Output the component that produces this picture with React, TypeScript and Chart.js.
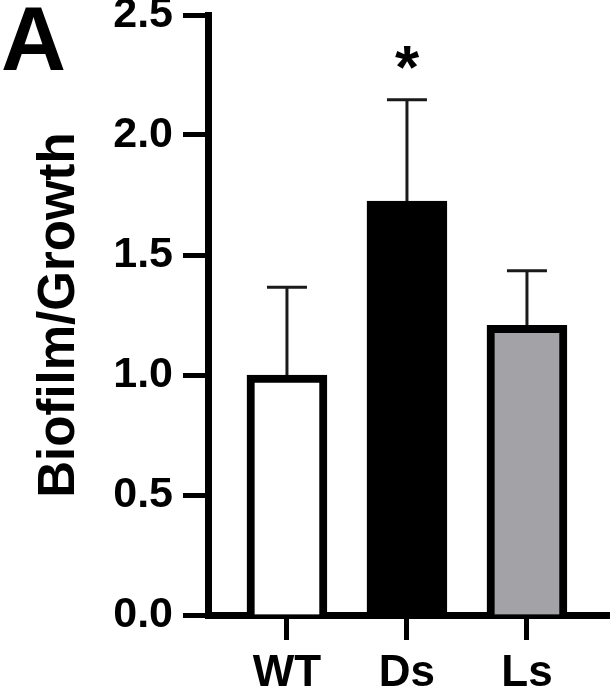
import React, { useEffect, useRef } from "react";
import { Chart, registerables } from "chart.js";

Chart.register(...registerables);

// Strains on the x axis
const categories = ["WT", "Ds", "Ls"];
// Mean biofilm/growth ratio per strain
const means = [1.0, 1.725, 1.207];
// Upper end of the error bar (mean + SD)
const upperErrors = [1.366, 2.147, 1.434];
// Significance marks above each bar
const significance = ["", "*", ""];
// Y axis tick values
const yTicks = [0, 0.5, 1.0, 1.5, 2.0, 2.5];

const fills = ["#ffffff", "#000000", "#a3a2a7"];
const FONT = "'Liberation Sans', Arial, Helvetica, sans-serif";

const errorBarPlugin = {
  id: "errorBars",
  beforeDatasetsDraw(chart: any) {
    const { ctx } = chart;
    const xs = chart.scales.x;
    const ys = chart.scales.y;
    ctx.save();
    ctx.strokeStyle = "#1a1a1a";
    ctx.lineWidth = 3;
    ctx.lineCap = "butt";
    means.forEach((m, i) => {
      const x = xs.getPixelForValue(i);
      const yBase = ys.getPixelForValue(m);
      const yTop = ys.getPixelForValue(upperErrors[i]);
      ctx.beginPath();
      ctx.moveTo(x, yBase);
      ctx.lineTo(x, yTop);
      ctx.moveTo(x - 20, yTop);
      ctx.lineTo(x + 20, yTop);
      ctx.stroke();
    });
    ctx.restore();
  },
  afterDraw(chart: any) {
    const { ctx } = chart;
    const xs = chart.scales.x;
    const ys = chart.scales.y;
    ctx.save();
    ctx.fillStyle = "#000";
    ctx.textAlign = "center";
    ctx.textBaseline = "alphabetic";
    ctx.font = `bold 62px ${FONT}`;
    significance.forEach((s, i) => {
      if (!s) return;
      const x = xs.getPixelForValue(i);
      const yTop = ys.getPixelForValue(upperErrors[i]);
      const m = ctx.measureText(s);
      const h = m.actualBoundingBoxAscent + m.actualBoundingBoxDescent;
      // centre the glyph 42px above the cap
      const cy = yTop - 42;
      ctx.fillText(s, x, cy + h / 2 - m.actualBoundingBoxDescent);
    });
    // Panel letter
    ctx.textAlign = "left";
    ctx.font = `bold 90px ${FONT}`;
    ctx.fillText("A", 1, 70);
    ctx.restore();
  },
};

export default function App() {
  const ref = useRef<HTMLCanvasElement | null>(null);

  useEffect(() => {
    if (!ref.current) return;
    const chart = new Chart(ref.current, {
      type: "bar",
      data: {
        datasets: [
          {
            data: means.map((v, i) => ({ x: i, y: v })),
            backgroundColor: fills,
            borderColor: "#000000",
            borderWidth: 8,
            borderSkipped: "start",
            barThickness: 80,
          },
        ],
      },
      options: {
        responsive: false,
        animation: false,
        layout: { padding: { top: 15, left: 0, right: 0, bottom: 0 } },
        plugins: {
          legend: { display: false },
          tooltip: { enabled: false },
        },
        scales: {
          x: {
            type: "linear",
            min: -0.658,
            max: 2.692,
            offset: false,
            z: 1,
            grid: {
              offset: false,
              drawOnChartArea: false,
              drawTicks: true,
              tickLength: 25,
              tickWidth: 5,
              tickColor: "#000",
            },
            border: { display: true, width: 7, color: "#000" },
            afterBuildTicks: (scale: any) => {
              scale.ticks = categories.map((_, i) => ({ value: i }));
            },
            afterFit: (scale: any) => {
              scale.height = 73;
              scale.paddingLeft = 0;
              scale.paddingRight = 0;
            },
            ticks: {
              autoSkip: false,
              maxRotation: 0,
              padding: 7,
              color: "#000",
              font: { family: FONT, size: 44, weight: "bold" },
              callback: (v: any) => categories[Number(v)] ?? "",
            },
          },
          y: {
            min: 0,
            max: 2.5,
            z: 1,
            grid: {
              drawOnChartArea: false,
              drawTicks: true,
              tickLength: 25,
              tickWidth: 5,
              tickColor: "#000",
            },
            border: { display: true, width: 7, color: "#000" },
            afterBuildTicks: (scale: any) => {
              scale.ticks = yTicks.map((v) => ({ value: v }));
            },
            afterFit: (scale: any) => {
              scale.width = 208;
              scale.paddingTop = 0;
              scale.paddingBottom = 0;
            },
            ticks: {
              padding: 10,
              color: "#000",
              font: { family: FONT, size: 43, weight: "bold" },
              callback: (v: any) => Number(v).toFixed(1),
            },
            title: {
              display: true,
              text: "Biofilm/Growth",
              color: "#000",
              font: { family: FONT, size: 51, weight: "bold" },
              padding: { top: 29, bottom: 0 },
            },
          },
        },
      },
      plugins: [errorBarPlugin],
    } as any);
    return () => chart.destroy();
  }, []);

  return (
    <div style={{ position: "absolute", left: 0, top: 0, width: 610, height: 688, background: "#fff" }}>
      <canvas ref={ref} width={610} height={688} style={{ display: "block" }} />
    </div>
  );
}
